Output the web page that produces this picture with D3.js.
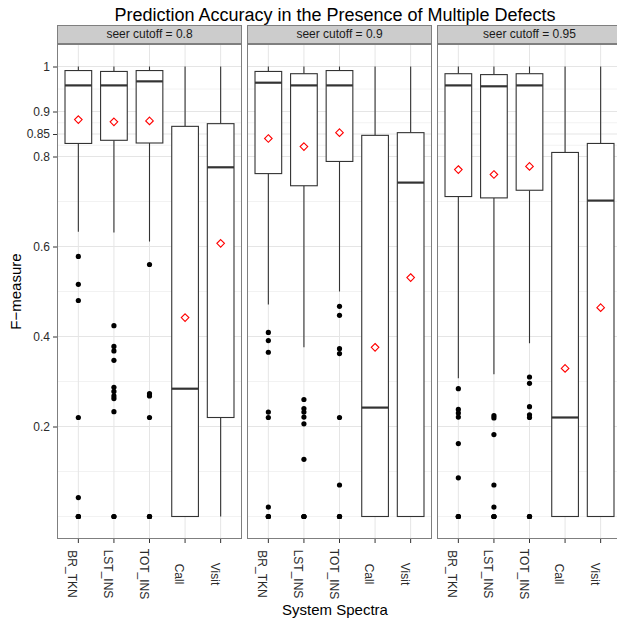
<!DOCTYPE html>
<html>
<head>
<meta charset="utf-8">
<script src="https://cdn.jsdelivr.net/npm/d3@7"></script>
<style>
  body { margin: 0; background: #fff; }
  text { font-family: "Liberation Sans", Arial, sans-serif; }
  .tickLabel { font-size: 12px; fill: #2b2b2b; }
  .stripText { font-size: 12px; fill: #1a1a1a; }
  .axisTitle { font-size: 15px; fill: #000; }
  .chartTitle { font-size: 18px; fill: #000; }
</style>
</head>
<body>
<div class="chart"></div>
<script>
// data

var facets = ["seer cutoff = 0.8", "seer cutoff = 0.9", "seer cutoff = 0.95"];
var categories = ["BR_TKN", "LST_INS", "TOT_INS", "Call", "Visit"];
var yBreaks = [0.2, 0.4, 0.6, 0.8, 0.85, 0.9, 1];
var yMinor = [0, 0.1, 0.3, 0.5, 0.7, 0.825, 0.875, 0.95];

// one row per facet, one value per category
var upperWhisker = [[1, 1, 1, 1, 1], [1, 1, 1, 1, 1], [1, 1, 1, 1, 1]];
var q3 = [[0.991, 0.989, 0.991, 0.867, 0.873],
          [0.989, 0.984, 0.991, 0.847, 0.853],
          [0.984, 0.982, 0.984, 0.809, 0.829]];
var medians = [[0.958, 0.958, 0.967, 0.284, 0.776],
               [0.964, 0.958, 0.958, 0.242, 0.742],
               [0.958, 0.956, 0.958, 0.220, 0.702]];
var q1 = [[0.829, 0.836, 0.830, 0, 0.220],
          [0.762, 0.735, 0.789, 0, 0],
          [0.711, 0.708, 0.725, 0, 0]];
var lowerWhisker = [[0.633, 0.631, 0.611, 0, 0],
                    [0.471, 0.376, 0.500, 0, 0],
                    [0.307, 0.316, 0.385, 0, 0]];
var means = [[0.882, 0.877, 0.879, 0.442, 0.607],
             [0.840, 0.822, 0.853, 0.376, 0.531],
             [0.771, 0.760, 0.778, 0.329, 0.464]];
var outliers = [
  [[0.578, 0.516, 0.48, 0.22, 0.042, 0, 0, 0],
   [0.424, 0.378, 0.368, 0.347, 0.287, 0.278, 0.268, 0.262, 0.233, 0, 0],
   [0.56, 0.273, 0.268, 0.22, 0, 0, 0],
   [], []],
  [[0.409, 0.391, 0.365, 0.232, 0.22, 0.021, 0, 0, 0],
   [0.26, 0.24, 0.232, 0.221, 0.206, 0.127, 0, 0, 0],
   [0.467, 0.447, 0.373, 0.362, 0.22, 0.07, 0, 0, 0],
   [], []],
  [[0.284, 0.238, 0.23, 0.221, 0.162, 0.086, 0, 0, 0],
   [0.224, 0.219, 0.182, 0.07, 0.021, 0, 0, 0],
   [0.31, 0.296, 0.244, 0.226, 0.22, 0, 0, 0],
   [], []]
];

var width = 617;
var height = 620;
var panelLeft = [57, 247, 437];
var panelW = 185;
var panelTop = 44;
var panelBottom = 539;
var stripH = 19;

var svg = d3.select(".chart")
            .append("svg")
            .attr("width", width)
            .attr("height", height);

var scaleY = d3.scaleLinear()
               .domain([-0.05, 1.05])
               .range([panelBottom, panelTop]);

var scaleX = d3.scalePoint()
               .domain(categories)
               .range([0, panelW])
               .padding(0.6);

var boxW = scaleX.step() * 0.75;

svg.append("text")
   .attr("class", "chartTitle")
   .attr("x", 335)
   .attr("y", 21)
   .style("text-anchor", "middle")
   .text("Prediction Accuracy in the Presence of Multiple Defects");

// y axis (only on the first panel)
var axisLeft = d3.axisLeft(scaleY)
                 .tickValues(yBreaks)
                 .tickFormat(function(d) { return d3.format("")(d); })
                 .tickSizeInner(4)
                 .tickSizeOuter(0)
                 .tickPadding(3);

var yAxis = svg.append("g")
               .attr("transform", "translate(" + panelLeft[0] + ",0)")
               .call(axisLeft);
yAxis.select(".domain").remove();
yAxis.selectAll("line").attr("stroke", "#333").attr("stroke-width", 1);
yAxis.selectAll("text").attr("class", "tickLabel").attr("font-size", null).attr("font-family", null);

svg.append("text")
   .attr("class", "axisTitle")
   .attr("transform", "translate(21," + ((panelTop + panelBottom) / 2) + ") rotate(-90)")
   .style("text-anchor", "middle")
   .text("F\u2212measure");

svg.append("text")
   .attr("class", "axisTitle")
   .attr("x", 335)
   .attr("y", 615)
   .style("text-anchor", "middle")
   .text("System Spectra");

facets.forEach(function(facet, f) {
  var g = svg.append("g")
             .attr("transform", "translate(" + panelLeft[f] + ",0)");

  // strip
  g.append("rect")
   .attr("x", 0.5).attr("y", panelTop - stripH + 0.5)
   .attr("width", panelW - 1).attr("height", stripH - 1)
   .attr("fill", "#cccccc").attr("stroke", "#7f7f7f");
  g.append("text")
   .attr("class", "stripText")
   .attr("x", panelW / 2).attr("y", panelTop - 6)
   .style("text-anchor", "middle")
   .text(facet);

  // grid
  g.selectAll(".minor").data(yMinor).enter().append("line")
   .attr("x1", 0).attr("x2", panelW)
   .attr("y1", function(d) { return scaleY(d); })
   .attr("y2", function(d) { return scaleY(d); })
   .attr("stroke", "#f2f2f2").attr("stroke-width", 1);
  g.selectAll(".major").data(yBreaks).enter().append("line")
   .attr("x1", 0).attr("x2", panelW)
   .attr("y1", function(d) { return scaleY(d); })
   .attr("y2", function(d) { return scaleY(d); })
   .attr("stroke", "#e5e5e5").attr("stroke-width", 1);
  g.selectAll(".vgrid").data(categories).enter().append("line")
   .attr("x1", function(d) { return scaleX(d); })
   .attr("x2", function(d) { return scaleX(d); })
   .attr("y1", panelTop).attr("y2", panelBottom)
   .attr("stroke", "#e5e5e5").attr("stroke-width", 1);

  categories.forEach(function(c, i) {
    var cx = scaleX(c);
    // whiskers
    g.append("line")
     .attr("x1", cx).attr("x2", cx)
     .attr("y1", scaleY(upperWhisker[f][i])).attr("y2", scaleY(q3[f][i]))
     .attr("stroke", "#333").attr("stroke-width", 1.1);
    g.append("line")
     .attr("x1", cx).attr("x2", cx)
     .attr("y1", scaleY(q1[f][i])).attr("y2", scaleY(lowerWhisker[f][i]))
     .attr("stroke", "#333").attr("stroke-width", 1.1);
    // box
    g.append("rect")
     .attr("x", cx - boxW / 2)
     .attr("y", scaleY(q3[f][i]))
     .attr("width", boxW)
     .attr("height", scaleY(q1[f][i]) - scaleY(q3[f][i]))
     .attr("fill", "#fff").attr("stroke", "#333").attr("stroke-width", 1.1);
    g.append("line")
     .attr("x1", cx - boxW / 2).attr("x2", cx + boxW / 2)
     .attr("y1", scaleY(medians[f][i])).attr("y2", scaleY(medians[f][i]))
     .attr("stroke", "#333").attr("stroke-width", 2.2);
    // outliers
    g.selectAll(".out" + i).data(outliers[f][i]).enter().append("circle")
     .attr("cx", cx)
     .attr("cy", function(d) { return scaleY(d); })
     .attr("r", 2.6)
     .attr("fill", "#000");
    // mean
    var my = scaleY(means[f][i]);
    g.append("path")
     .attr("d", "M" + cx + "," + (my - 3.8) + "L" + (cx + 3.8) + "," + my + "L" + cx + "," + (my + 3.8) + "L" + (cx - 3.8) + "," + my + "Z")
     .attr("fill", "none").attr("stroke", "#ff0000").attr("stroke-width", 1.1);
  });

  // panel border
  g.append("rect")
   .attr("x", 0.5).attr("y", panelTop + 0.5)
   .attr("width", panelW - 1).attr("height", panelBottom - panelTop - 1)
   .attr("fill", "none").attr("stroke", "#7f7f7f");

  // x ticks and labels
  g.selectAll(".xtick").data(categories).enter().append("line")
   .attr("x1", function(d) { return scaleX(d); })
   .attr("x2", function(d) { return scaleX(d); })
   .attr("y1", panelBottom).attr("y2", panelBottom + 4)
   .attr("stroke", "#333");
  g.selectAll(".xlab").data(categories).enter().append("text")
   .attr("class", "tickLabel")
   .attr("transform", function(d) { return "translate(" + (scaleX(d) - 10) + ",574) rotate(90)"; })
   .style("text-anchor", "middle")
   .text(function(d) { return d; });
});
</script>
</body>
</html>
